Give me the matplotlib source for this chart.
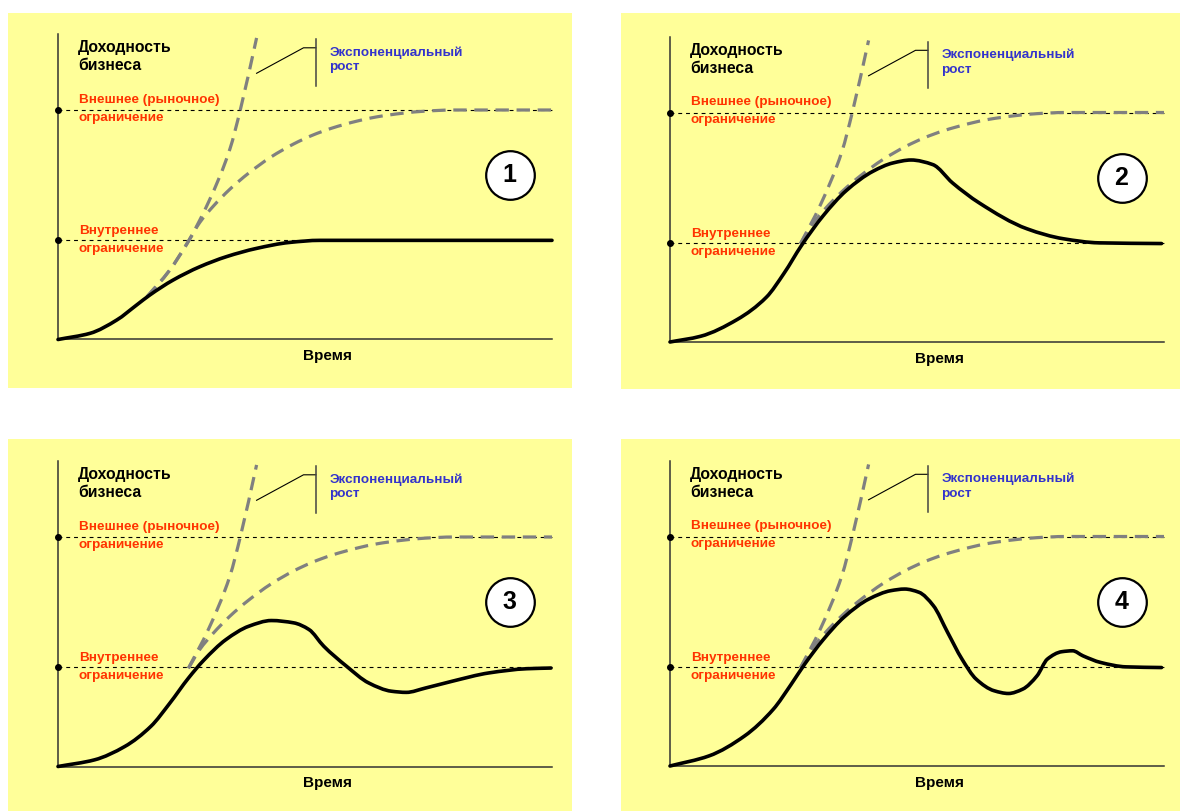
import numpy as np
import matplotlib
matplotlib.use("Agg")
import matplotlib.pyplot as plt
from matplotlib.path import Path
from matplotlib.patches import PathPatch

plt.rcParams["font.family"] = ["Liberation Sans", "DejaVu Sans"]

# --- constraint levels (y in % of the market limit) ---
OUTER_LEVEL = 100.0
INNER_LEVEL = 43.2

# --- shared dashed curves: exponential growth and market-limited growth ---
exp_t = [18, 22.5, 26.4, 30.5, 34.8, 36.9, 40.2]
exp_y = [18.6, 29.9, 42.8, 60, 83, 100, 131.4]

logistic_t = [18, 22.5, 26.4, 28.7, 31.4, 34.8, 38.6, 43.1, 47.7, 51.5,
              55.3, 60.6, 64.5, 69.8, 74.3, 80, 100]
logistic_y = [18.6, 29.9, 42.8, 51, 58, 65.5, 72.5, 79.5, 85.2, 89,
              92, 95.2, 97, 98.6, 99.5, 100, 100]

# --- actual business revenue, one scenario per panel ---
rev1_t = [0, 6.5, 11.9, 15.9, 18.6, 23.3, 28.7, 34.1, 40.2, 46.9, 53, 100]
rev1_y = [0, 2.7, 8.5, 15.0, 19.4, 25.9, 31.7, 36.1, 39.7, 42.3, 43.2, 43.2]

rev2_t = [0, 6.2, 13.6, 19.5, 23.1, 26.6, 31, 35.7, 41.1, 45.1, 48.8,
          53.2, 57.2, 62.6, 72.3, 79.6, 86.9, 99.5]
rev2_y = [0, 2.5, 9.8, 19.5, 30, 42, 55, 66, 74.4, 78, 79.3,
          77.3, 69.3, 60.6, 49.3, 45, 43.2, 42.9]

rev3_t = [0, 7.4, 13.5, 18.8, 22.6, 26.4, 29.5, 34, 38.6, 43.2, 47.7,
          50.8, 53.8, 58.4, 62.9, 67.5, 70.5, 74.4, 79.7, 87.3, 94.9, 99.8]
rev3_y = [0, 2.9, 8.7, 17.5, 27.5, 38.5, 46.3, 55.3, 61.1, 63.6, 62.6,
          59.7, 52.4, 43.7, 36.4, 32.8, 32.3, 34.2, 37.1, 40.8, 42.6, 42.9]

rev4_t = [0, 7.9, 15.1, 20.9, 24.5, 27.3, 31, 35.3, 40.3, 44.7, 47.5,
          50.4, 53.3, 56.2, 59.1, 62, 65.6, 68.5, 71.4, 74.3, 76.4, 79.3,
          81.5, 83.6, 87.2, 92.3, 99.5]
rev4_y = [0, 4.4, 13.1, 24.7, 35.5, 44.5, 55, 65, 72.8, 76.4, 77.1,
          75.7, 69.9, 58.2, 46.6, 37.8, 32.8, 31.6, 33.5, 39.3, 46.6, 49.8,
          50.2, 48.0, 45.1, 43.2, 42.9]

revenue_t = [rev1_t, rev2_t, rev3_t, rev4_t]
revenue_y = [rev1_y, rev2_y, rev3_y, rev4_y]
dashed_start = [18, 26.4, 26.4, 26.4]
panel_numbers = ["1", "2", "3", "4"]

# panel placement in pixels: (left, top, right, bottom) and axis origin (x, y)
W, H = 1180, 811
panels = [
    dict(box=(8, 13, 572, 388), origin=(58, 339.5)),
    dict(box=(621, 13, 1180, 389), origin=(670, 342)),
    dict(box=(8, 439, 572, 811), origin=(58, 766.5)),
    dict(box=(621, 439, 1180, 811), origin=(670, 766)),
]
PX_PER_T = 4.94
PX_PER_Y = 2.295

YELLOW = "#FFFF99"
RED = "#FF3300"
BLUE = "#3333CC"
GRAY = "#808080"


def pchip_slopes(t, y):
    h = np.diff(t)
    d = np.diff(y) / h
    m = np.zeros_like(y)
    for k in range(1, len(y) - 1):
        if d[k - 1] * d[k] > 0:
            w1 = 2 * h[k] + h[k - 1]
            w2 = h[k] + 2 * h[k - 1]
            m[k] = (w1 + w2) / (w1 / d[k - 1] + w2 / d[k])
    m[0] = d[0]
    m[-1] = d[-1]
    return m


def smooth_path(t, y):
    """Monotone cubic through the points, as a Bezier path."""
    t = np.asarray(t, float)
    y = np.asarray(y, float)
    m = pchip_slopes(t, y)
    verts = [(t[0], y[0])]
    codes = [Path.MOVETO]
    for i in range(len(t) - 1):
        h = t[i + 1] - t[i]
        verts += [(t[i] + h / 3, y[i] + m[i] * h / 3),
                  (t[i + 1] - h / 3, y[i + 1] - m[i + 1] * h / 3),
                  (t[i + 1], y[i + 1])]
        codes += [Path.CURVE4] * 3
    return Path(verts, codes)


def clip_from(t, y, t0):
    t = np.asarray(t, float)
    y = np.asarray(y, float)
    keep = t >= t0
    return t[keep], y[keep]


fig = plt.figure(figsize=(W / 100, H / 100), dpi=100)
fig.patch.set_facecolor("white")

for k, pnl in enumerate(panels):
    l, tp, r, b = pnl["box"]
    ox, oy = pnl["origin"]
    ax = fig.add_axes([l / W, 1 - b / H, (r - l) / W, (b - tp) / H])
    ax.set_xlim((l - ox) / PX_PER_T, (r - ox) / PX_PER_T)
    ax.set_ylim((oy - b) / PX_PER_Y, (oy - tp) / PX_PER_Y)
    ax.axis("off")
    ax.add_patch(plt.Rectangle((0, 0), 1, 1, transform=ax.transAxes,
                               facecolor=YELLOW, edgecolor="none", zorder=0))

    # axes
    ax.plot([0, 0], [0, 133], color="#333333", lw=1.1, zorder=2)
    ax.plot([0, 100], [0, 0], color="#333333", lw=1.1, zorder=2)

    # constraint levels
    for lvl in (OUTER_LEVEL, INNER_LEVEL):
        ax.plot([0, 100], [lvl, lvl], color="black", lw=0.8,
                linestyle=(0, (3.5, 3.5)), zorder=2)
        ax.plot([0], [lvl], "o", color="black", ms=4, zorder=3)

    # dashed growth curves
    for ct, cy in ((exp_t, exp_y), (logistic_t, logistic_y)):
        tt, yy = clip_from(ct, cy, dashed_start[k])
        ax.add_patch(PathPatch(smooth_path(tt, yy), facecolor="none",
                               edgecolor=GRAY, lw=2.3,
                               linestyle=(0, (4.2, 2.4)), zorder=4))

    # actual revenue
    ax.add_patch(PathPatch(smooth_path(revenue_t[k], revenue_y[k]),
                           facecolor="none", edgecolor="black", lw=2.6,
                           capstyle="round", joinstyle="round", zorder=5))

    # labels
    ax.text(4.1, 127.1, "Доходность", fontsize=11.3, fontweight="bold",
            va="center", ha="left", zorder=6)
    ax.text(4.1, 119.3, "бизнеса", fontsize=11.3, fontweight="bold",
            va="center", ha="left", zorder=6)
    ax.text(4.2, 104.4, "Внешнее (рыночное)", fontsize=9.7,
            fontweight="bold", color=RED, va="center", ha="left", zorder=6)
    ax.text(4.2, 96.6, "ограничение", fontsize=9.7, fontweight="bold",
            color=RED, va="center", ha="left", zorder=6)
    ax.text(4.2, 47.2, "Внутреннее", fontsize=9.7, fontweight="bold",
            color=RED, va="center", ha="left", zorder=6)
    ax.text(4.2, 39.4, "ограничение", fontsize=9.7, fontweight="bold",
            color=RED, va="center", ha="left", zorder=6)
    ax.text(54.5, -7.4, "Время", fontsize=11, fontweight="bold",
            va="center", ha="center", zorder=6)

    # callout for exponential growth
    ax.plot([40.2, 49.7, 52.2], [116, 127.1, 127.1], color="black",
            lw=0.8, zorder=6)
    ax.plot([52.2, 52.2], [110.6, 130.9], color="#444444", lw=1.1, zorder=6)
    ax.text(54.9, 125.1, "Экспоненциальный", fontsize=9.7,
            fontweight="bold", color=BLUE, va="center", ha="left", zorder=6)
    ax.text(54.9, 118.6, "рост", fontsize=9.7, fontweight="bold",
            color=BLUE, va="center", ha="left", zorder=6)

    # scenario number
    ax.plot([91.4], [71.5], "o", ms=35, mfc="white", mec="black",
            mew=1.6, zorder=6)
    ax.text(91.4, 71.5, panel_numbers[k], fontsize=18, fontweight="bold",
            va="center", ha="center", zorder=7)

fig.savefig("out.png", dpi=100, facecolor="white")
